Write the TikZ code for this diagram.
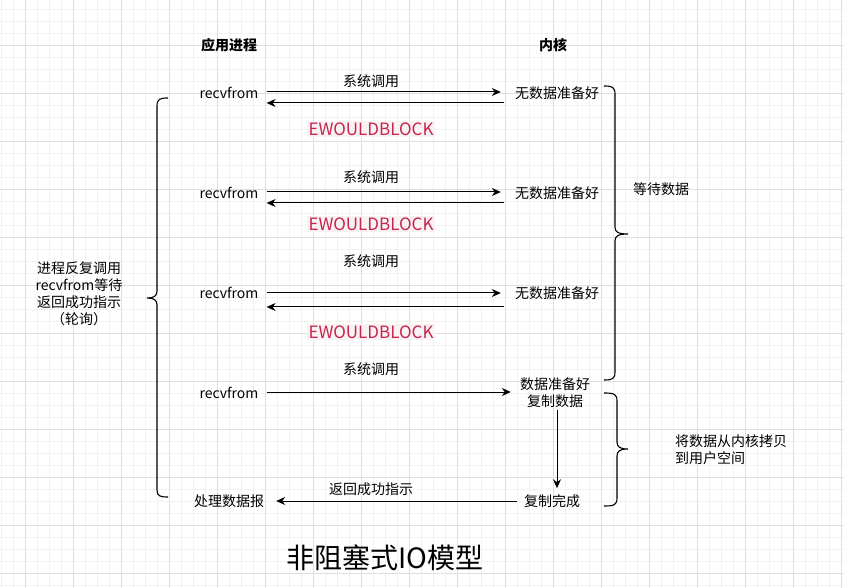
\documentclass[tikz,border=0pt]{standalone}
\usepackage{fontspec}
\setmainfont{Noto Sans CJK SC}
\usepackage{tikz}
\usetikzlibrary{arrows.meta}
\usetikzlibrary{calc}

\definecolor{majorgrid}{RGB}{226,223,216}
\definecolor{minorgrid}{RGB}{244,242,237}
\definecolor{errred}{RGB}{199,37,78}
\definecolor{errbg}{RGB}{249,242,244}

\begin{document}
\begin{tikzpicture}[x=1pt, y=-1pt,
        label_style/.style={inner sep=0pt, font=\fontsize{14pt}{17pt}\selectfont, align=center},
        head_style/.style={inner sep=0pt, font=\fontsize{14pt}{17pt}\selectfont\bfseries},
        err_style/.style={inner sep=2pt, fill=errbg, text=errred, font=\fontsize{17pt}{20pt}\selectfont},
        title_style/.style={inner sep=0pt, font=\fontsize{28pt}{32pt}\selectfont},
        arrow_style/.style={draw=black, line width=1pt, -{Stealth[length=9pt,width=8pt]}},
        brace_style/.style={draw=black, line width=1.1pt},
        minor_style/.style={draw=minorgrid, line width=0.8pt},
        major_style/.style={draw=majorgrid, line width=0.9pt}]

        % background grid
        \useasboundingbox (0,0) rectangle (844,588);
        \fill[white] (0,0) rectangle (844,588);
        \foreach \x in {1,13,...,841} \draw[minor_style] (\x,0) -- (\x,588);
        \foreach \y in {9,21,...,585} \draw[minor_style] (0,\y) -- (844,\y);
        \foreach \x in {25,73,...,841} \draw[major_style] (\x,0) -- (\x,588);
        \foreach \y in {45,93,...,573} \draw[major_style] (0,\y) -- (844,\y);

        \node [head_style](h1) at (229,45) {应用进程};
        \node [head_style](h2) at (553,45) {内核};

        \node [label_style](r1) at (229,93) {recvfrom};
        \node [label_style](r2) at (229,193) {recvfrom};
        \node [label_style](r3) at (229,293) {recvfrom};
        \node [label_style](r4) at (229,393) {recvfrom};
        \node [label_style](d1) at (229,501) {处理数据报};

        \node [label_style](k1) at (557,93) {无数据准备好};
        \node [label_style](k2) at (557,193) {无数据准备好};
        \node [label_style](k3) at (557,293) {无数据准备好};
        \node [label_style](k4) at (555,393) {数据准备好\\复制数据};
        \node [label_style](k5) at (552,501) {复制完成};

        \node [label_style](s1) at (371,81) {系统调用};
        \node [label_style](s2) at (371,177) {系统调用};
        \node [label_style](s3) at (371,261) {系统调用};
        \node [label_style](s4) at (371,369) {系统调用};
        \node [label_style](s5) at (371,489) {返回成功指示};

        \node [err_style](e1) at (371,129) {EWOULDBLOCK};
        \node [err_style](e2) at (371,224) {EWOULDBLOCK};
        \node [err_style](e3) at (371,332) {EWOULDBLOCK};

        \node [label_style](p1) at (79,294) {进程反复调用\\recvfrom等待\\返回成功指示\\（轮询）};
        \node [label_style](w1) at (661,189) {等待数据};
        \node [label_style, align=left, anchor=west](c1) at (675,450) {将数据从内核拷贝\\到用户空间};

        \node [title_style](t1) at (385,558) {非阻塞式IO模型};

        \draw [arrow_style, shorten <=8pt, shorten >=14pt] ([yshift=1pt]r1.east) -- ([yshift=1pt]k1.west);
        \draw [arrow_style, shorten <=11pt, shorten >=8pt] ([yshift=-10pt]k1.west) -- ([yshift=-10pt]r1.east);
        \draw [arrow_style, shorten <=8pt, shorten >=14pt] ([yshift=1pt]r2.east) -- ([yshift=1pt]k2.west);
        \draw [arrow_style, shorten <=11pt, shorten >=8pt] ([yshift=-10pt]k2.west) -- ([yshift=-10pt]r2.east);
        \draw [arrow_style, shorten <=8pt, shorten >=14pt] (r3.east) -- (k3.west);
        \draw [arrow_style, shorten <=11pt, shorten >=8pt] ([yshift=-14pt]k3.west) -- ([yshift=-14pt]r3.east);
        \draw [arrow_style, shorten <=8pt, shorten >=9pt] ([yshift=1pt]r4.east) -- ([yshift=1pt]r4.east -| k4.west);
        \draw [arrow_style, shorten <=2pt, shorten >=6pt] ([xshift=2pt]k4.south) -- ([xshift=2pt]k4.south |- k5.north);
        \draw [arrow_style, shorten <=7pt, shorten >=12pt] (k5.west) -- (d1.east);

        % braces
        \draw [brace_style] (168,98) .. controls (160,98) and (157,99) .. (157,106) -- (157,291)
            .. controls (157,296) and (154,298) .. (147,298) .. controls (154,298) and (157,300) .. (157,305)
            -- (157,490) .. controls (157,496) and (160,497) .. (168,497);
        \draw [brace_style] (604,86) .. controls (612,86) and (615,87) .. (615,94) -- (615,227)
            .. controls (615,232) and (618,234) .. (628,234) .. controls (618,234) and (615,236) .. (615,241)
            -- (615,372) .. controls (615,379) and (612,380) .. (604,380);
        \draw [brace_style] (604,393) .. controls (614,393) and (617,394) .. (617,401) -- (617,442)
            .. controls (617,447) and (620,449) .. (628,449) .. controls (620,449) and (617,451) .. (617,456)
            -- (617,498) .. controls (617,505) and (614,506) .. (604,506);
\end{tikzpicture}
\end{document}
